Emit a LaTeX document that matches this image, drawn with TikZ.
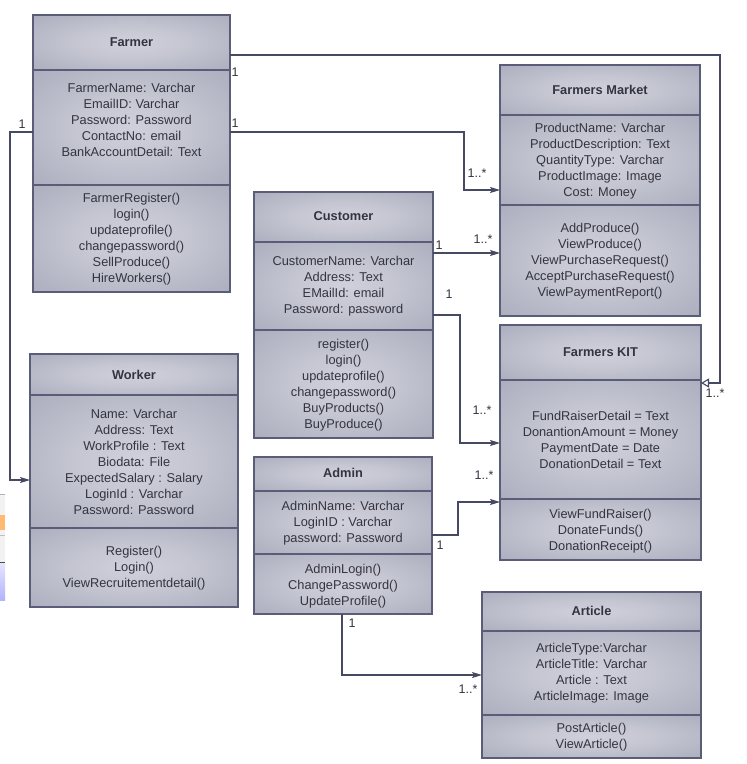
\documentclass[tikz,border=0pt]{standalone}
\usepackage{fontspec}
\setmainfont{Liberation Sans}
\usetikzlibrary{arrows.meta,calc}

\definecolor{boxlight}{HTML}{CFD0DA}
\definecolor{boxmid}{HTML}{9C9EB1}
\definecolor{boxdark}{HTML}{84879C}
\definecolor{boxedge}{HTML}{5A5D78}
\definecolor{wire}{HTML}{454961}
\definecolor{ink}{HTML}{33343F}

% soft radial fill used for every compartment of a class box
\pgfdeclareradialshading{compshade}{\pgfpoint{0bp}{0bp}}{%
  color(0bp)=(boxlight); color(14bp)=(boxlight!80!boxmid);
  color(50bp)=(boxmid); color(71bp)=(boxdark); color(100bp)=(boxdark)}

\newcommand\compartment[4]{\shade[shading=compshade] (#1,#2) rectangle (#3,#4);}

\tikzset{
  umlframe/.style={draw=boxedge, line width=1.1pt, anchor=north west,
    inner sep=0pt, outer sep=0pt},
  sepline/.style={draw=boxedge, line width=1.1pt},
  titletext/.style={font=\fontsize{12.8}{16}\selectfont\bfseries, text=ink, inner sep=0pt, yshift=-1pt},
  membertext/.style={align=center, font=\fontsize{12.8}{16}\selectfont, text=ink, inner sep=0pt, yshift=-1pt},
  multtext/.style={font=\fontsize{12.5}{15}\selectfont, text=ink, inner sep=0pt},
  wire/.style={draw=wire, line width=1.1pt,
    -{Stealth[length=10pt,width=6pt,inset=2pt]}},
  genwire/.style={draw=wire, line width=1.1pt,
    -{Triangle[open,length=8pt,width=9pt,fill=white]}},
}

\begin{document}
\begin{tikzpicture}[x=1pt,y=-1pt]
\useasboundingbox (0,0) rectangle (747,764);
\fill[white] (0,0) rectangle (747,764);

% strip of a neighbouring window at the left border
\fill[gray!10] (0,494) rectangle (5,600);
\draw[gray!60, line width=0.8pt] (0,494.5) -- (5,494.5);
\fill[orange!55!white] (0,515) rectangle (5,530);
\draw[gray!50, line width=0.8pt] (0,535) -- (5,535);
\draw[black!70, line width=1pt] (0,562) -- (5,562);
\shade[top color=blue!10, bottom color=blue!30!white] (0,563) rectangle (5,600);

% ---------- Farmer ----------
\compartment{33}{15}{230}{70}
\compartment{33}{70}{230}{185}
\compartment{33}{185}{230}{292}
\node[umlframe, minimum width=197pt, minimum height=277pt] (farmer) at (33,15) {};
\draw[sepline] (farmer.west |- 0,70) -- (farmer.east |- 0,70);
\draw[sepline] (farmer.west |- 0,185) -- (farmer.east |- 0,185);
\node[titletext] (farmer-t) at (131.5,41) {Farmer};
\node[membertext] (farmer-a) at (131.5,119) {FarmerName: Varchar\\EmailID: Varchar\\Password: Password\\ContactNo: email\\BankAccountDetail: Text};
\node[membertext] (farmer-m) at (131.5,238) {FarmerRegister()\\login()\\updateprofile()\\changepassword()\\SellProduce()\\HireWorkers()};

% ---------- Farmers Market ----------
\compartment{500}{65}{700}{115}
\compartment{500}{115}{700}{205}
\compartment{500}{205}{700}{316}
\node[umlframe, minimum width=200pt, minimum height=251pt] (market) at (500,65) {};
\draw[sepline] (market.west |- 0,115) -- (market.east |- 0,115);
\draw[sepline] (market.west |- 0,205) -- (market.east |- 0,205);
\node[titletext] (market-t) at (600,89) {Farmers Market};
\node[membertext] (market-a) at (600,160) {ProductName: Varchar\\ProductDescription: Text\\QuantityType: Varchar\\ProductImage: Image\\Cost: Money};
\node[membertext] (market-m) at (600,260) {AddProduce()\\ViewProduce()\\ViewPurchaseRequest()\\AcceptPurchaseRequest()\\ViewPaymentReport()};

% ---------- Customer ----------
\compartment{254}{192}{433}{242}
\compartment{254}{242}{433}{330}
\compartment{254}{330}{433}{438}
\node[umlframe, minimum width=179pt, minimum height=246pt] (customer) at (254,192) {};
\draw[sepline] (customer.west |- 0,242) -- (customer.east |- 0,242);
\draw[sepline] (customer.west |- 0,330) -- (customer.east |- 0,330);
\node[titletext] (customer-t) at (343.5,215) {Customer};
\node[membertext] (customer-a) at (343.5,285.5) {CustomerName: Varchar\\Address: Text\\EMailId: email\\Password: password};
\node[membertext] (customer-m) at (343.5,384) {register()\\login()\\updateprofile()\\changepassword()\\BuyProducts()\\BuyProduce()};

% ---------- Farmers KIT ----------
\compartment{500}{325}{701}{380}
\compartment{500}{380}{701}{499}
\compartment{500}{499}{701}{560}
\node[umlframe, minimum width=201pt, minimum height=235pt] (kit) at (500,325) {};
\draw[sepline] (kit.west |- 0,380) -- (kit.east |- 0,380);
\draw[sepline] (kit.west |- 0,499) -- (kit.east |- 0,499);
\node[titletext] (kit-t) at (600.5,351) {Farmers KIT};
\node[membertext] (kit-a) at (600.5,439) {FundRaiserDetail = Text\\DonantionAmount = Money\\PaymentDate = Date\\DonationDetail = Text};
\node[membertext] (kit-m) at (600.5,530) {ViewFundRaiser()\\DonateFunds()\\DonationReceipt()};

% ---------- Worker ----------
\compartment{30}{354}{238}{395}
\compartment{30}{395}{238}{528}
\compartment{30}{528}{238}{607}
\node[umlframe, minimum width=208pt, minimum height=253pt] (worker) at (30,354) {};
\draw[sepline] (worker.west |- 0,395) -- (worker.east |- 0,395);
\draw[sepline] (worker.west |- 0,528) -- (worker.east |- 0,528);
\node[titletext] (worker-t) at (134,374) {Worker};
\node[membertext] (worker-a) at (134,461) {Name: Varchar\\Address: Text\\WorkProfile : Text\\Biodata: File\\ExpectedSalary : Salary\\LoginId : Varchar\\Password: Password};
\node[membertext] (worker-m) at (134,567) {Register()\\Login()\\ViewRecruitementdetail()};

% ---------- Admin ----------
\compartment{254}{457}{432}{491}
\compartment{254}{491}{432}{554}
\compartment{254}{554}{432}{614}
\node[umlframe, minimum width=178pt, minimum height=157pt] (admin) at (254,457) {};
\draw[sepline] (admin.west |- 0,491) -- (admin.east |- 0,491);
\draw[sepline] (admin.west |- 0,554) -- (admin.east |- 0,554);
\node[titletext] (admin-t) at (343,472) {Admin};
\node[membertext] (admin-a) at (343,522) {AdminName: Varchar\\LoginID : Varchar\\password: Password};
\node[membertext] (admin-m) at (343,585) {AdminLogin()\\ChangePassword()\\UpdateProfile()};

% ---------- Article ----------
\compartment{482}{592}{701}{631}
\compartment{482}{631}{701}{715}
\compartment{482}{715}{701}{758}
\node[umlframe, minimum width=219pt, minimum height=166pt] (article) at (482,592) {};
\draw[sepline] (article.west |- 0,631) -- (article.east |- 0,631);
\draw[sepline] (article.west |- 0,715) -- (article.east |- 0,715);
\node[titletext] (article-t) at (591.5,610) {Article};
\node[membertext] (article-a) at (591.5,672) {ArticleType:Varchar\\ArticleTitle: Varchar\\Article : Text\\ArticleImage: Image};
\node[membertext] (article-m) at (591.5,736) {PostArticle()\\ViewArticle()};

% ---------- connectors ----------
\draw[genwire] (farmer.east |- 0,55) -- (720,55) |- (kit.east |- 0,383);
\draw[wire] (farmer.east |- 0,132) -- (464,132) |- (market.west |- 0,190);
\draw[wire] (farmer.west |- 0,132) -- (10,132) |- (worker.west |- 0,480);
\draw[wire] (customer.east |- 0,253) -- (market.west |- 0,253);
\draw[wire] (customer.east |- 0,315) -- (460,315) |- (kit.west |- 0,443);
\draw[wire] (admin.east |- 0,535) -- (458,535) |- (kit.west |- 0,502);
\draw[wire] (admin.south -| 342,0) |- (article.west |- 0,675);

% ---------- multiplicities ----------
\node[multtext] (m-gen-a) at (235,72) {1};
\node[multtext] (m-gen-b) at (715,393) {1..*};
\node[multtext] (m-fm-a) at (235,123) {1};
\node[multtext] (m-fm-b) at (477,173) {1..*};
\node[multtext] (m-fw-a) at (22,124) {1};
\node[multtext] (m-cm-a) at (439,245) {1};
\node[multtext] (m-cm-b) at (483,239) {1..*};
\node[multtext] (m-ck-a) at (449,294) {1};
\node[multtext] (m-ck-b) at (482,410) {1..*};
\node[multtext] (m-ak-a) at (440,545) {1};
\node[multtext] (m-ak-b) at (484,475) {1..*};
\node[multtext] (m-aa-a) at (352,623) {1};
\node[multtext] (m-aa-b) at (468,689) {1..*};
\end{tikzpicture}
\end{document}
